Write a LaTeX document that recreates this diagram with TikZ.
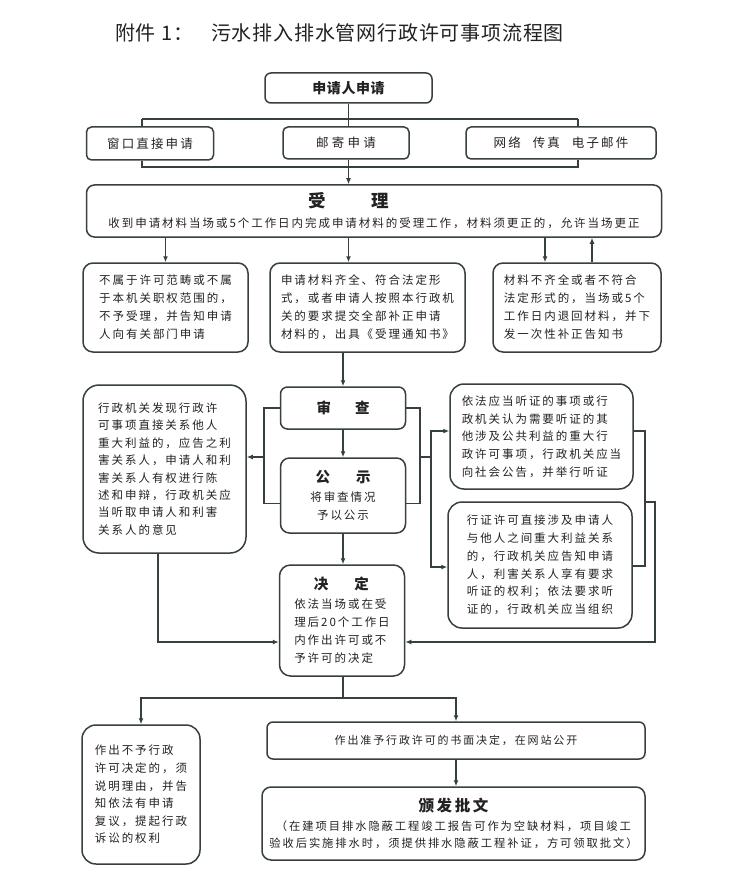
\documentclass[tikz,border=0pt]{standalone}
\usepackage{fontspec}
\setmainfont{Noto Sans CJK SC}
\newfontfamily\cjk{Noto Sans CJK SC}[LetterSpace=17]
\newfontfamily\cjkt{Noto Sans CJK SC}[LetterSpace=4]
\usetikzlibrary{arrows.meta,calc}
\definecolor{ln}{HTML}{364040}
\definecolor{tx}{HTML}{222222}
\tikzset{
  box/.style={draw=ln, line width=1.5pt, rounded corners=8pt, inner sep=0pt, fill=white,
    text=tx, align=left, font=\cjk\fontsize{11.5}{18}\selectfont},
  cbox/.style={box, align=center},
  conn/.style={draw=ln, line width=1.6pt},
  arr/.style={conn, -{Latex[length=6pt,width=5pt]}},
}
\newcommand{\hdtext}[2]{{\bfseries\fontsize{#1}{#1}\selectfont #2}}
\begin{document}
\begin{tikzpicture}[x=1pt,y=-1pt]
\fill[white] (0,0) rectangle (750,885);
\useasboundingbox (0,0) rectangle (750,885);

% title
\node[anchor=west, text=tx, font=\cjkt\fontsize{20}{20}\selectfont, inner sep=0pt] (title1) at (115,33) {附件 1：};
\node[anchor=west, text=tx, font=\cjkt\fontsize{20}{20}\selectfont, inner sep=0pt] (title2) at (211,33) {污水排入排水管网行政许可事项流程图};

% top
\node[cbox, rounded corners=6pt, minimum width=167pt, minimum height=30pt, font=\cjkt\bfseries\fontsize{14}{14}\selectfont] (apply) at (348.5,88) {申请人申请};
\node[cbox, rounded corners=5pt, minimum width=127pt, minimum height=33pt, font=\cjk\fontsize{12.5}{14}\selectfont] (win) at (150,143.5) {窗口直接申请};
\node[cbox, rounded corners=5pt, minimum width=126pt, minimum height=32pt, font=\cjk\addfontfeature{LetterSpace=26}\fontsize{12.5}{14}\selectfont] (mail) at (346,143) {邮寄申请};
\node[cbox, rounded corners=5pt, minimum width=190pt, minimum height=32pt, font=\cjk\fontsize{12.5}{14}\selectfont] (net) at (561,143) {网络\hspace{12pt}传真\hspace{12pt}电子邮件};

% accept
\node[cbox, minimum width=575pt, minimum height=52pt] (accept) at (374,211)
  {\hdtext{17.5}{受\hspace{46pt}理}\rule{50pt}{0pt}\\[2pt]收到申请材料当场或5个工作日内完成申请材料的受理工作，材料须更正的，允许当场更正};

\node[box, rounded corners=10pt, minimum width=165pt, minimum height=89pt] (b1) at (165.5,307.5)
  {不属于许可范畴或不属\\于本机关职权范围的，\\不予受理，并告知申请\\人向有关部门申请};
\node[box, rounded corners=10pt, minimum width=195pt, minimum height=89pt] (b2) at (367.5,307.5)
  {申请材料齐全、符合法定形\\式，或者申请人按照本行政机\\关的要求提交全部补正申请\\材料的，出具《受理通知书》};
\node[box, rounded corners=10pt, minimum width=168pt, minimum height=89pt] (b3) at (577,307.5)
  {材料不齐全或者不符合\\法定形式的，当场或5个\\工作日内退回材料，并下\\发一次性补正告知书};

% middle
\node[cbox, rounded corners=7pt, minimum width=125pt, minimum height=42pt] (review) at (343,408)
  {\hdtext{14.5}{审\hspace{24pt}查}};
\node[cbox, rounded corners=9pt, minimum width=125pt, minimum height=75pt] (public) at (343,495.5)
  {\hdtext{14.5}{公\hspace{26pt}示}\\[1pt]将审查情况\\予以公示};
\node[box, rounded corners=11pt, minimum width=125pt, minimum height=111pt] (decide) at (342,620.5)
  {\makebox[94pt][c]{\hdtext{14.5}{决\hspace{26pt}定}}\\[1pt]依法当场或在受\\理后20个工作日\\内作出许可或不\\予许可的决定};
\node[box, rounded corners=16pt, minimum width=163pt, minimum height=168pt, font=\cjk\fontsize{11.5}{17.4}\selectfont] (leftmid) at (164.5,469)
  {行政机关发现行政许\\可事项直接关系他人\\重大利益的，应告之利\\害关系人，申请人和利\\害关系人有权进行陈\\述和申辩，行政机关应\\当听取申请人和利害\\关系人的意见};
\node[box, rounded corners=14pt, minimum width=183pt, minimum height=105pt, font=\cjk\fontsize{11.5}{17.7}\selectfont] (tr) at (541.5,436.5)
  {依法应当听证的事项或行\\政机关认为需要听证的其\\他涉及公共利益的重大行\\政许可事项，行政机关应当\\向社会公告，并举行听证};
\node[box, rounded corners=14pt, minimum width=184pt, minimum height=126pt, font=\cjk\fontsize{11.5}{17.7}\selectfont] (br) at (540,565)
  {行证许可直接涉及申请人\\与他人之间重大利益关系\\的，行政机关应告知申请\\人，利害关系人享有要求\\听证的权利；依法要求听\\证的，行政机关应当组织};

% bottom
\node[box, rounded corners=14pt, minimum width=118pt, minimum height=139pt, font=\cjk\fontsize{11.5}{17.6}\selectfont] (bl) at (141,794.5)
  {作出不予行政\\许可决定的，须\\说明理由，并告\\知依法有申请\\复议，提起行政\\诉讼的权利};
\node[cbox, rounded corners=6pt, minimum width=378pt, minimum height=37pt, font=\cjk\fontsize{11}{14}\selectfont] (grant) at (456,740.5)
  {作出准予行政许可的书面决定，在网站公开};
\node[cbox, rounded corners=9pt, minimum width=383pt, minimum height=73pt, font=\cjk\fontsize{11.3}{17}\selectfont] (issue) at (453.5,823.5)
  {\hdtext{15.5}{颁发批文}\\[2pt]（在建项目排水隐蔽工程竣工报告可作为空缺材料，项目竣工\\验收后实施排水时，须提供排水隐蔽工程补证，方可领取批文）};

% ---- connectors ----
\coordinate (jtl) at (142,119); \coordinate (jtr) at (578,119);
\coordinate (jbl) at (142,167); \coordinate (jbr) at (578,167);
\draw[conn] (apply.south) -- (apply.south |- mail.north);
\draw[conn] (jtl) -- (jtr);
\draw[conn] (jtl) -- (jtl |- win.north);
\draw[conn] (jtr) -- (jtr |- net.north);
\draw[conn] (jbl |- win.south) -- (jbl) -- (jbr) -- (jbr |- net.south);
\draw[arr] (apply.south |- mail.south) -- (apply.south |- accept.north);

\draw[arr] (b1.north |- accept.south) -- (b1.north);
\draw[arr] (apply.south |- accept.south) -- (apply.south |- b2.north);
\coordinate (b3d) at ($(b3.north)+(-32,0)$);
\coordinate (b3u) at ($(b3.north)+(15,0)$);
\draw[arr] (b3d |- accept.south) -- (b3d);
\draw[arr] (b3u) -- (b3u |- accept.south);

\draw[arr] (review.north |- b2.south) -- (review.north);
\draw[arr] (review.south) -- (public.north);
\draw[arr] (public.south) -- (decide.north -| public.south);

% left bracket
\coordinate (lj) at (264,457);
\coordinate (pubL) at ($(public.west)+(0,8)$);
\draw[conn] (review.west) -| (lj) |- (pubL);
\draw[arr] (lj) -- (lj -| leftmid.east);

% right bracket
\coordinate (rj) at (420,457); \coordinate (rj2) at (431,457);
\coordinate (pubR) at ($(public.east)+(0,8)$);
\draw[conn] (review.east) -| (rj) |- (pubR);
\draw[conn] (rj) -- (rj2);
\coordinate (trL) at ($(tr.west)+(0,-5.5)$);
\coordinate (brL) at ($(br.west)+(0,2)$);
\draw[arr] (rj2) |- (trL);
\draw[arr] (rj2) |- (brL);
\coordinate (trR) at ($(tr.east)+(0,-5.5)$);
\coordinate (brR) at ($(br.east)+(0,1)$);
\coordinate (ro) at (645,502); \coordinate (ro2) at (655,502);
\draw[conn] (trR) -| (ro) |- (brR);
\coordinate (decR) at ($(decide.east)+(0,21.5)$);
\draw[arr] (ro) -- (ro2) |- (decR);

% left box to decide
\coordinate (lmS) at ($(leftmid.south)+(-6.5,0)$);
\coordinate (decL) at ($(decide.west)+(0,21.5)$);
\draw[arr] (lmS) |- (decL);

% bottom
\coordinate (jd) at (343,698);
\draw[conn] (decide.south -| jd) -- (jd);
\draw[arr] (jd) -| (bl.north);
\draw[arr] (jd) -| (grant.north);
\draw[arr] (grant.south) -- (grant.south |- issue.north);
\end{tikzpicture}
\end{document}
